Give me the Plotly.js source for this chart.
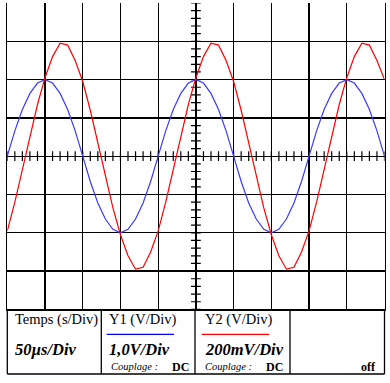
<!DOCTYPE html>
<html>
<head>
<meta charset="utf-8">
<script src="https://cdn.plot.ly/plotly-3.0.1.min.js"></script>
<style>html,body{margin:0;padding:0;background:#fff;}#chart{width:390px;height:383px;}</style>
</head>
<body>
<div id="chart"></div>
<script>
// Time axis (µs), 50 µs/Div, 10 divisions
const timeUs = [0,10,20,30,40,50,60,70,80,90,100,110,120,130,140,150,160,170,180,190,200,210,220,230,240,250,260,270,280,290,300,310,320,330,340,350,360,370,380,390,400,410,420,430,440,450,460,470,480,490,500];
// Y1 (blue) in volts, 1,0 V/Div
const y1Volts = [0,0.66,1.22,1.64,1.91,2.0,1.91,1.64,1.22,0.66,0,-0.66,-1.22,-1.64,-1.91,-2.0,-1.91,-1.64,-1.22,-0.66,
                 0,0.66,1.22,1.64,1.91,2.0,1.91,1.64,1.22,0.66,0,-0.66,-1.22,-1.64,-1.91,-2.0,-1.91,-1.64,-1.22,-0.66,
                 0,0.66,1.22,1.64,1.91,2.0,1.91,1.64,1.22,0.66,0];
// Y2 (red) in volts, 200 mV/Div
const y2Volts = [-0.39,-0.24,-0.07,0.105,0.27,0.41,0.52,0.59,0.58,0.50,0.39,0.24,0.07,-0.105,-0.27,-0.41,-0.52,-0.59,-0.58,-0.50,
                 -0.39,-0.24,-0.07,0.105,0.27,0.41,0.52,0.59,0.58,0.50,0.39,0.24,0.07,-0.105,-0.27,-0.41,-0.52,-0.59,-0.58,-0.50,
                 -0.39,-0.24,-0.07,0.105,0.27,0.41,0.52,0.59,0.58,0.50,0.40];

// Table labels
const labelTime = "Temps (s/Div)";
const labelY1 = "Y1 (V/Div)";
const labelY2 = "Y2 (V/Div)";
const valueTime = "50µs/Div";
const valueY1 = "1,0V/Div";
const valueY2 = "200mV/Div";
const couplingLabel = "Couplage :";
const couplingY1 = "DC";
const couplingY2 = "DC";
const triggerLabel = "off";

const W = 390, H = 383;
const px = x => x / W;
const py = y => 1 - y / H;
const L = 7.3, R = 384.5, T = 3, B = 309.4, TB = 374;

// decorative graduation marks on the central axes
const hx = [], hy = [], vx = [], vy = [];
for (let i = 0; i <= 50; i++) { hx.push(i * 10); hy.push(0); }
for (let i = -20; i <= 20; i++) { vx.push(250); vy.push(i * 0.2); }

const traces = [
  {x: hx, y: hy, mode: 'markers', type: 'scatter', hoverinfo: 'skip',
   marker: {symbol: 'line-ns', size: 7, color: '#000', line: {color: '#000', width: 1.2}}},
  {x: vx, y: vy, mode: 'markers', type: 'scatter', hoverinfo: 'skip',
   marker: {symbol: 'line-ew', size: 7, color: '#000', line: {color: '#000', width: 1.2}}},
  {x: timeUs, y: y1Volts, mode: 'lines', type: 'scatter', yaxis: 'y', name: 'Y1',
   line: {color: '#3a3aff', width: 1.2}},
  {x: timeUs, y: y2Volts, mode: 'lines', type: 'scatter', yaxis: 'y2', name: 'Y2',
   line: {color: '#ff0000', width: 1.2}}
];

const serif = "Liberation Serif, Times New Roman, serif";
function ann(text, x, y, size, extra) {
  return Object.assign({text: text, xref: 'paper', yref: 'paper', x: px(x), y: py(y),
    xanchor: 'left', yanchor: 'middle', showarrow: false,
    font: {family: serif, size: size, color: '#000'}}, extra || {});
}
function bi(t){ return '<b><i>' + t + '</i></b>'; }

const annotations = [
  ann(labelTime, 13.3, 319.5, 14.5),
  ann(labelY1, 107.3, 319.5, 14.5),
  ann(labelY2, 203.3, 319.5, 14.5),
  ann(bi(valueTime), 12.5, 349.5, 16.5),
  ann(bi(valueY1), 106.5, 349.5, 16.5),
  ann(bi(valueY2), 202.5, 349.5, 16.5),
  ann('<i>' + couplingLabel + '</i>', 108.5, 366.5, 10.5),
  ann('<b>' + couplingY1 + '</b>', 169.5, 366.5, 12),
  ann('<i>' + couplingLabel + '</i>', 202.8, 366.5, 10.5),
  ann('<b>' + couplingY2 + '</b>', 263.5, 366.5, 12),
  ann('<b>' + triggerLabel + '</b>', 358.8, 366.5, 12)
];

function seg(x0, y0, x1, y1, color, w) {
  return {type: 'line', xref: 'paper', yref: 'paper', x0: px(x0), y0: py(y0), x1: px(x1), y1: py(y1),
          line: {color: color || '#000', width: w || 1.3}};
}
const shapes = [
  seg(L, TB, R, TB),
  seg(L, B, L, TB),
  seg(R, B, R, TB),
  seg(101.3, B, 101.3, TB),
  seg(195, B, 195, TB),
  seg(290, B, 290, TB),
  seg(106.7, 334.3, 174, 334.3, '#0000ff', 1.2),
  seg(201.7, 334.3, 269, 334.3, '#ff0000', 1.2)
];

const layout = {
  width: W, height: H,
  margin: {l: 0, r: 0, t: 0, b: 0, pad: 0},
  paper_bgcolor: '#fff', plot_bgcolor: '#fff',
  showlegend: false,
  xaxis: {range: [0, 500], domain: [px(L), px(R)], tickmode: 'array',
          tickvals: [50,100,150,200,250,300,350,400,450], showticklabels: false, ticks: '',
          showgrid: true, gridcolor: '#000', gridwidth: 1.3, zeroline: false,
          showline: true, linecolor: '#000', linewidth: 1.3, mirror: false, fixedrange: true},
  yaxis: {range: [-4, 4], domain: [py(B), py(T)], tickmode: 'array',
          tickvals: [-3,-2,-1,0,1,2,3], showticklabels: false, ticks: '',
          showgrid: true, gridcolor: '#000', gridwidth: 1.3, zeroline: false,
          showline: true, linecolor: '#000', linewidth: 1.3, mirror: true, fixedrange: true},
  yaxis2: {range: [-0.8, 0.8], overlaying: 'y', visible: false, fixedrange: true},
  shapes: shapes,
  annotations: annotations
};

Plotly.newPlot('chart', traces, layout, {displayModeBar: false, staticPlot: true});
</script>
</body>
</html>
